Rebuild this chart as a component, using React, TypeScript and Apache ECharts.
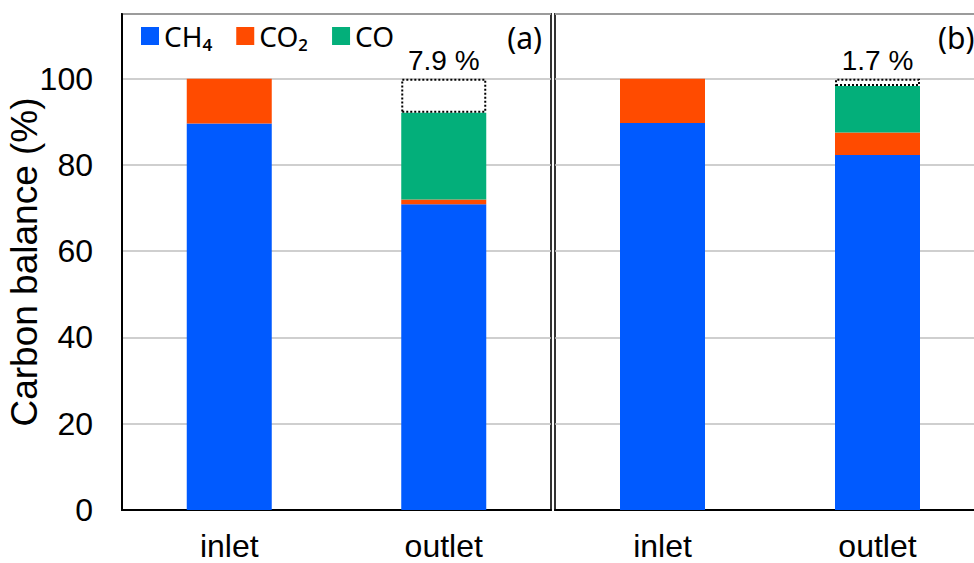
import React, { useEffect, useRef } from "react";
import * as echarts from "echarts";

const categories = ["inlet", "outlet"];
const seriesNames = ["CH₄", "CO₂", "CO"];
const colors = ["#005AFF", "#FF4B00", "#03AF7A"];

// panel (a)
const ch4A = [89.6, 70.9];
const co2A = [10.4, 1.1];
const coA: (number | null)[] = [null, 20.1];
const missingA: (number | null)[] = [null, 7.9];

// panel (b)
const ch4B = [89.7, 82.3];
const co2B = [10.3, 5.2];
const coB: (number | null)[] = [null, 10.8];
const missingB: (number | null)[] = [null, 1.7];

const panelLabels = ["(a)", "(b)"];

const FONT = "Liberation Sans, Arial, sans-serif";

function panelSeries(idx: number, ch4: any[], co2: any[], co: any[], missing: any[]) {
  const stack = "s" + idx;
  const base = {
    type: "bar",
    stack,
    xAxisIndex: idx,
    yAxisIndex: idx,
    barWidth: 85,
  };
  return [
    { ...base, name: seriesNames[0], data: ch4, itemStyle: { color: colors[0] } },
    { ...base, name: seriesNames[1], data: co2, itemStyle: { color: colors[1] } },
    { ...base, name: seriesNames[2], data: co, itemStyle: { color: colors[2] } },
    {
      ...base,
      name: "unaccounted",
      data: missing,
      itemStyle: {
        color: "rgba(0,0,0,0)",
        borderColor: "#000",
        borderWidth: 2,
        borderType: [2, 2],
      },
      label: {
        show: true,
        position: "top",
        distance: 4,
        color: "#000",
        fontSize: 28,
        fontFamily: FONT,
        formatter: (p: any) => (p.value == null ? "" : p.value + " %"),
      },
    },
  ];
}

export default function App() {
  const ref = useRef<HTMLDivElement>(null);
  useEffect(() => {
    const chart = echarts.init(ref.current!, null, { renderer: "svg" });
    const grids = [
      { left: 122, width: 429, top: 14, bottom: 53 },
      { left: 555, width: 430, top: 14, bottom: 53 },
    ].map((g) => ({
      ...g,
      show: true,
      borderColor: "#333",
      borderWidth: 2,
      containLabel: false,
      outerBoundsMode: "none",
    }));
    const xAxes = [0, 1].map((i) => ({
      type: "category",
      gridIndex: i,
      data: categories,
      axisLine: { lineStyle: { color: "#000", width: 2 } },
      axisTick: { show: false },
      axisLabel: { color: "#000", fontSize: 32, fontFamily: FONT, margin: 20 },
    }));
    const yAxes = [0, 1].map((i) => ({
      type: "value",
      gridIndex: i,
      min: 0,
      max: 115,
      interval: 20,
      name: i === 0 ? "Carbon balance (%)" : "",
      nameLocation: "middle",
      nameGap: 79,
      nameMoveOverlap: false,
      nameTextStyle: { color: "#000", fontSize: 37, fontFamily: FONT },
      axisLine: { show: i === 0, lineStyle: { color: "#000", width: 2 } },
      axisTick: { show: false },
      axisLabel: {
        show: i === 0,
        color: "#000",
        fontSize: 32,
        fontFamily: FONT,
        margin: 29,
        formatter: (v: number) => (v > 100 ? "" : String(v)),
      },
      splitLine: { show: true, lineStyle: { color: "#BFBFBF", width: 1.5 } },
    }));
    chart.setOption({
      animation: false,
      backgroundColor: "#fff",
      grid: grids,
      xAxis: xAxes,
      yAxis: yAxes,
      legend: {
        data: seriesNames,
        left: 136,
        top: 17,
        itemWidth: 18,
        itemHeight: 18,
        itemGap: 24,
        icon: "rect",
        textStyle: { color: "#000", fontSize: 28, fontFamily: "Noto Sans, sans-serif" },
      },
      graphic: [
        {
          type: "text",
          right: 974 - 542,
          top: 22,
          style: { text: panelLabels[0], fontSize: 30, fontFamily: "Noto Sans, sans-serif", fill: "#000" },
        },
        {
          type: "text",
          left: 938,
          top: 22,
          style: { text: panelLabels[1], fontSize: 30, fontFamily: "Noto Sans, sans-serif", fill: "#000" },
        },
      ],
      series: [
        ...panelSeries(0, ch4A, co2A, coA, missingA),
        ...panelSeries(1, ch4B, co2B, coB, missingB),
      ],
    });
    return () => chart.dispose();
  }, []);
  return (
    <div
      ref={ref}
      style={{ position: "absolute", left: 0, top: 0, width: 974, height: 563 }}
    />
  );
}
